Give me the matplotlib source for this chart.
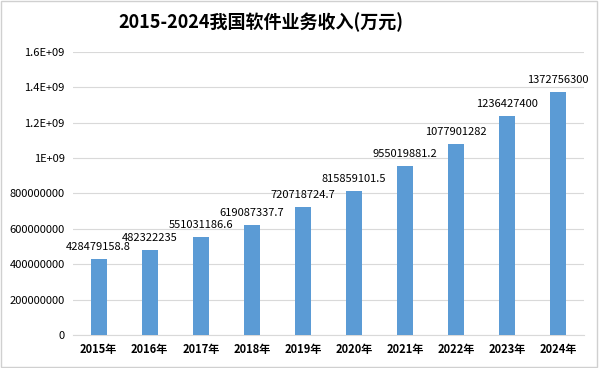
import matplotlib
matplotlib.use("Agg")
import matplotlib.pyplot as plt
from matplotlib.patches import Rectangle

plt.rcParams["font.family"] = ["Noto Sans CJK SC", "DejaVu Sans"]

years = ["2015年", "2016年", "2017年", "2018年", "2019年",
         "2020年", "2021年", "2022年", "2023年", "2024年"]
revenue = [428479158.8, 482322235, 551031186.6, 619087337.7, 720718724.7,
           815859101.5, 955019881.2, 1077901282, 1236427400, 1372756300]
value_labels = ["428479158.8", "482322235", "551031186.6", "619087337.7", "720718724.7",
                "815859101.5", "955019881.2", "1077901282", "1236427400", "1372756300"]
yticks = [0, 2e8, 4e8, 6e8, 8e8, 1e9, 1.2e9, 1.4e9, 1.6e9]
ytick_labels = ["0", "200000000", "400000000", "600000000", "800000000",
                "1E+09", "1.2E+09", "1.4E+09", "1.6E+09"]

fig = plt.figure(figsize=(5.99, 3.68), dpi=100)
ax = fig.add_axes([0.1222, 0.0897, 0.852, 0.7698])

x = range(len(years))
ax.bar(x, revenue, width=0.31, color="#5B9BD5", zorder=3)
for i, (v, s) in enumerate(zip(revenue, value_labels)):
    ax.annotate(s, (i, v), textcoords="offset points", xytext=(0, 5),
                ha="center", va="bottom", fontsize=8, fontweight="medium",
                color="#000000")

ax.set_xlim(-0.5, len(years) - 0.5)
ax.set_ylim(0, 1.6e9)
ax.set_yticks(yticks)
ax.set_yticklabels(ytick_labels, fontsize=8, fontweight="medium")
ax.set_xticks(list(x))
ax.set_xticklabels(years, fontsize=8, fontweight="bold")
ax.tick_params(length=0, pad=6)
ax.grid(axis="y", color="#D9D9D9", lw=0.8, zorder=0)
for side in ["top", "right", "left"]:
    ax.spines[side].set_visible(False)
ax.spines["bottom"].set_color("#D9D9D9")

fig.text(0.435, 0.94, "2015-2024我国软件业务收入(万元)", ha="center", va="center",
         fontsize=13, fontweight="bold")
fig.patches.append(Rectangle((0.002, 0.003), 0.995, 0.993, transform=fig.transFigure,
                             fill=False, edgecolor="#D0D0D0", lw=1))
fig.savefig("out.png", dpi=100)
